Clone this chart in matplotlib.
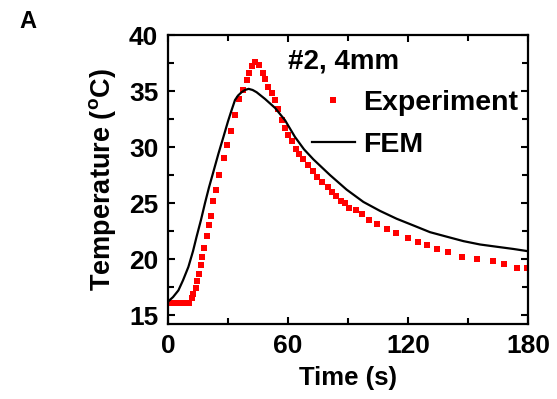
import numpy as np
import matplotlib
matplotlib.use("Agg")
from matplotlib import pyplot as plt
from matplotlib.ticker import MultipleLocator

plt.rcParams['font.family'] = ['Liberation Sans', 'DejaVu Sans']
plt.rcParams['font.weight'] = 'bold'
plt.rcParams['mathtext.fontset'] = 'custom'
plt.rcParams['mathtext.bf'] = 'Liberation Sans:bold'
plt.rcParams['mathtext.rm'] = 'Liberation Sans:bold'

# experiment: time (s), temperature (C)
exp_t = [0, 1.5, 3, 4.5, 6, 7.5, 9, 10.5, 11.8, 12.7, 13.8, 14.7, 15.7, 16.5,
         17.2, 18.0, 19.3, 20.5, 21.5, 22.7, 24.0, 25.5, 28.0, 29.7, 31.5,
         33.5, 35.7, 37.7, 39.3, 40.5, 42.2, 43.5, 45.7, 47.3, 48.5, 50.2,
         51.8, 53.5, 55.2, 57.2, 58.5, 60.2, 61.8, 64.0, 65.7, 67.7, 70.2,
         72.3, 74.3, 76.8, 79.8, 81.8, 84.0, 86.3, 88.5, 90.7, 93.8, 97.2,
         100.7, 104.7, 109.3, 114.0, 120.2, 124.8, 129.3, 134.7, 140.2, 147.0,
         154.3, 162.3, 168.2, 174.3, 179.3]
exp_T = [16.05, 16.05, 16.05, 16.05, 16.05, 16.05, 16.05, 16.1, 16.5, 16.9,
         17.4, 18.0, 18.7, 19.5, 20.2, 21.0, 22.1, 23.0, 23.8, 25.2, 26.2,
         27.5, 29.0, 30.2, 31.4, 32.9, 34.3, 35.1, 36.0, 36.6, 37.2, 37.6,
         37.3, 36.6, 36.1, 35.4, 34.8, 34.2, 33.4, 32.4, 31.7, 31.1, 30.5,
         29.8, 29.4, 28.9, 28.4, 27.9, 27.3, 26.9, 26.4, 26.0, 25.6, 25.2,
         25.0, 24.6, 24.4, 24.0, 23.5, 23.1, 22.7, 22.3, 21.9, 21.5, 21.25,
         20.9, 20.6, 20.2, 20.0, 19.8, 19.55, 19.2, 19.2]

# FEM simulation
fem_t = [0, 2.5, 5.2, 7.5, 10.2, 12.5, 14.3, 16.5, 18.5, 20.5, 22.7, 25.2,
         27.7, 30.0, 31.8, 33.5, 35.0, 36.8, 38.5, 40.3, 42.3, 44.3, 48.5,
         53.5, 58.5, 63.5, 68.0, 72.7, 81.0, 89.3, 97.7, 106.0, 114.3, 122.7,
         131.0, 139.3, 147.7, 156.0, 164.3, 172.7, 180.0]
fem_T = [16.2, 16.6, 17.2, 18.1, 19.3, 20.7, 22.0, 23.5, 25.0, 26.4, 27.8,
         29.4, 30.9, 32.3, 33.3, 34.2, 34.6, 34.9, 35.1, 35.2, 35.1, 34.9,
         34.3, 33.5, 32.4, 30.9, 29.8, 28.9, 27.5, 26.2, 25.1, 24.3, 23.6,
         23.0, 22.4, 22.0, 21.6, 21.3, 21.1, 20.9, 20.7]

fig = plt.figure(figsize=(5.57, 3.99), dpi=100)
ax = fig.add_axes([0.3016, 0.188, 0.6464, 0.724])

ax.plot(exp_t, exp_T, 's', color='#ff0000', markersize=4.6, markeredgewidth=0,
        label='Experiment')
ax.plot(fem_t, fem_T, '-', color='black', linewidth=1.6, label='FEM')

ax.set_xlim(0, 180)
ax.set_ylim(14.2, 40)
ax.xaxis.set_major_locator(MultipleLocator(60))
ax.xaxis.set_minor_locator(MultipleLocator(30))
ax.yaxis.set_major_locator(MultipleLocator(5))
ax.yaxis.set_minor_locator(MultipleLocator(2.5))
ax.tick_params(which='both', direction='in', top=True, right=True,
               width=1.5, labelsize=19)
ax.tick_params(axis='x', pad=7)
ax.tick_params(axis='y', pad=7)
ax.tick_params(which='major', length=5)
ax.tick_params(which='minor', length=4)
for s in ax.spines.values():
    s.set_linewidth(1.6)

ax.set_xlabel('Time (s)', fontsize=18.5, fontweight='bold', labelpad=6)
ax.set_ylabel(r'Temperature ($\mathbf{^o}$C)', fontsize=19.5,
              fontweight='bold', labelpad=8)

ax.text(0.333, 0.91, '#2, 4mm', transform=ax.transAxes, fontsize=20,
        fontweight='bold', va='center', ha='left')
ax.legend(loc='upper left', bbox_to_anchor=(0.4, 0.81), frameon=False,
          fontsize=20.5, handlelength=1.5, handletextpad=0.28,
          labelspacing=0.55, borderpad=0, borderaxespad=0, markerscale=1.0)

fig.text(0.05, 0.945, 'A', fontsize=17, fontweight='bold', ha='center',
         va='center')

fig.savefig('out.png', dpi=100)
